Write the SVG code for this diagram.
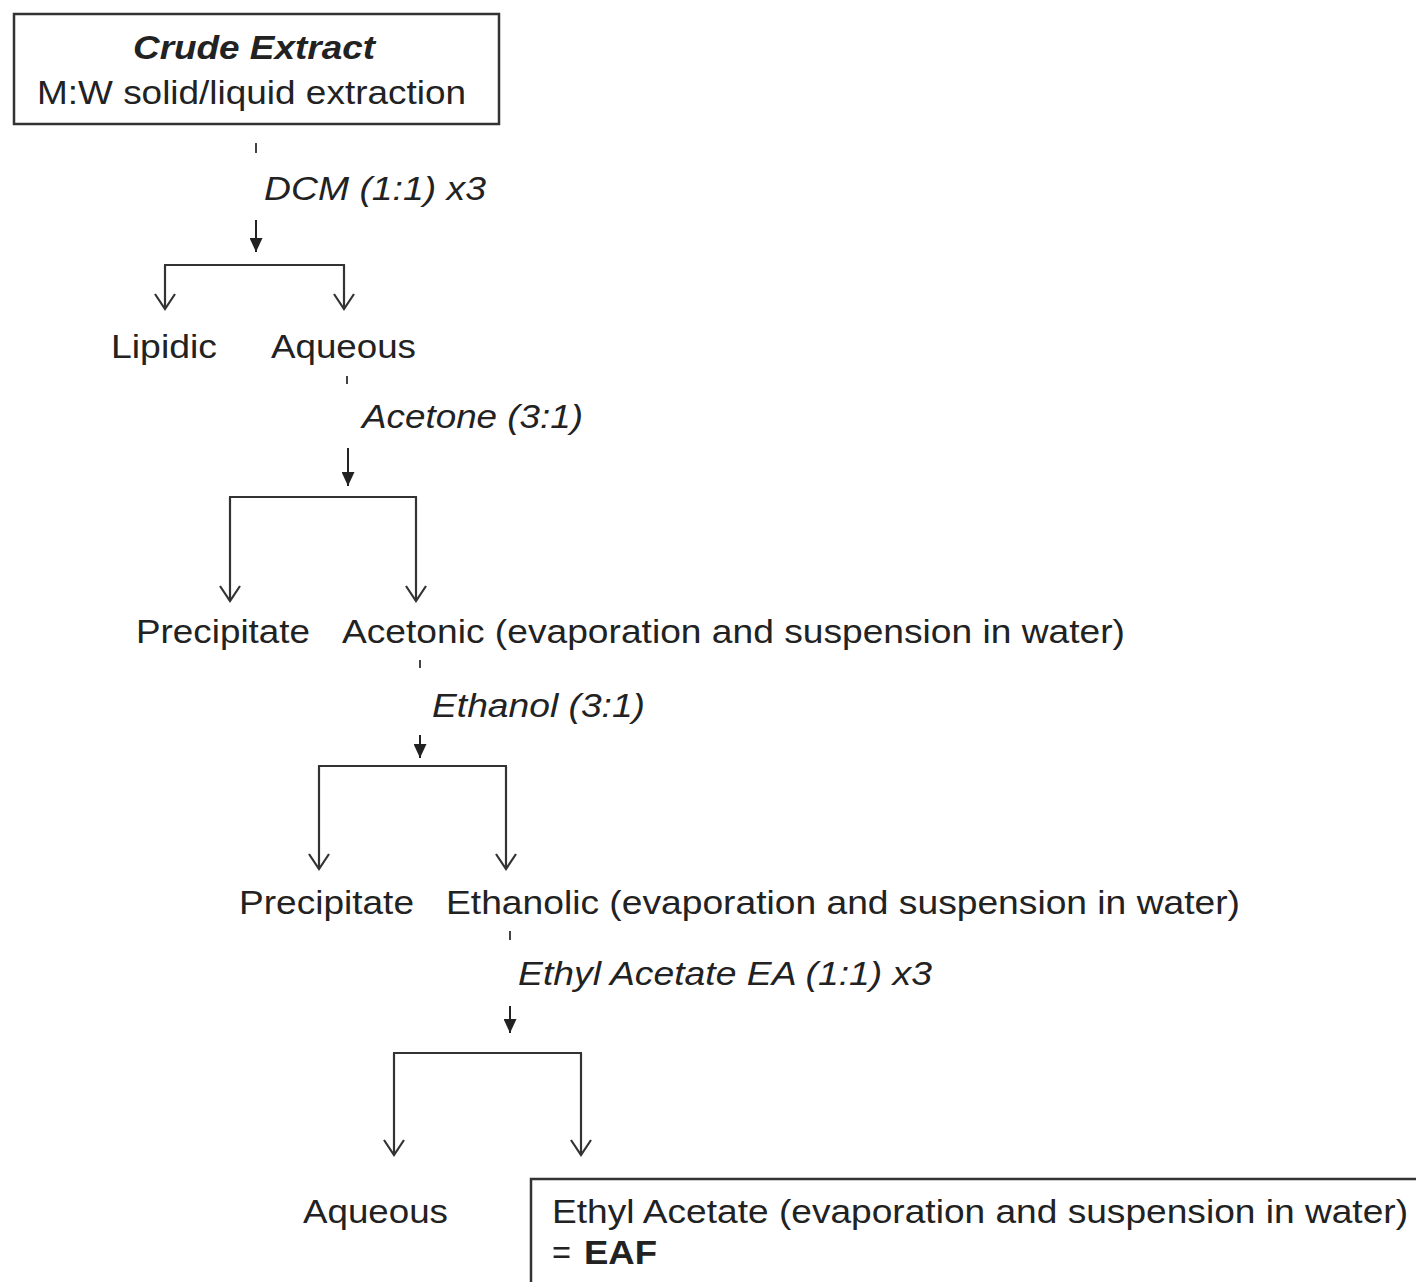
<svg xmlns="http://www.w3.org/2000/svg" width="1416" height="1282" viewBox="0 0 1416 1282">
<defs>
<style>
text{font-family:"Liberation Sans",Arial,sans-serif;font-size:32.5px;fill:#222}
.it{font-style:italic}
.bi{font-style:italic;font-weight:bold}
.b{font-weight:bold}
.box{fill:none;stroke:#333;stroke-width:2.5}
.ln{fill:none;stroke:#333;stroke-width:2.2}
.tick{stroke:#444;stroke-width:2}
.leg{fill:none;stroke:#333;stroke-width:2.2;marker-end:url(#open)}
.dn{fill:none;stroke:#222;stroke-width:2;marker-end:url(#filled)}
</style>
<marker id="open" viewBox="0 0 18 22" refX="16" refY="11" markerWidth="18" markerHeight="22" markerUnits="userSpaceOnUse" orient="auto">
<path d="M1,1 L16,11 L1,21" fill="none" stroke="#333" stroke-width="2.2"/>
</marker>
<marker id="filled" viewBox="0 0 15 13" refX="14" refY="6.5" markerWidth="15" markerHeight="13" markerUnits="userSpaceOnUse" orient="auto">
<path d="M0,0 L14,6.5 L0,13 z" fill="#222"/>
</marker>
</defs>
<rect width="1416" height="1282" fill="#fff"/>

<g id="connectors">
<line class="tick" x1="256" y1="143" x2="256" y2="153"/>
<line class="dn" x1="256" y1="220" x2="256" y2="252"/>
<line class="ln" x1="164" y1="265" x2="345" y2="265"/>
<line class="leg" x1="165" y1="265" x2="165" y2="309"/>
<line class="leg" x1="344" y1="265" x2="344" y2="309"/>

<line class="tick" x1="347" y1="376" x2="347" y2="384"/>
<line class="dn" x1="348" y1="448" x2="348" y2="486"/>
<line class="ln" x1="229" y1="497" x2="417" y2="497"/>
<line class="leg" x1="230" y1="497" x2="230" y2="601"/>
<line class="leg" x1="416" y1="497" x2="416" y2="601"/>

<line class="tick" x1="420" y1="660" x2="420" y2="668"/>
<line class="dn" x1="420" y1="735" x2="420" y2="758"/>
<line class="ln" x1="318" y1="766" x2="507" y2="766"/>
<line class="leg" x1="319" y1="766" x2="319" y2="869"/>
<line class="leg" x1="506" y1="766" x2="506" y2="869"/>

<line class="tick" x1="510" y1="931" x2="510" y2="940"/>
<line class="dn" x1="510" y1="1006" x2="510" y2="1033"/>
<line class="ln" x1="393" y1="1053" x2="582" y2="1053"/>
<line class="leg" x1="394" y1="1053" x2="394" y2="1155"/>
<line class="leg" x1="581" y1="1053" x2="581" y2="1155"/>
</g>

<g id="crude">
<rect class="box" x="14" y="14" width="485" height="110"/>
<text class="bi" x="133" y="59" textLength="242" lengthAdjust="spacingAndGlyphs">Crude Extract</text>
<text x="37" y="104" textLength="429" lengthAdjust="spacingAndGlyphs">M:W solid/liquid extraction</text>
</g>
<g id="label-dcm"><text class="it" x="264" y="200" textLength="222" lengthAdjust="spacingAndGlyphs">DCM (1:1) x3</text></g>
<g id="lipidic"><text x="111" y="358" textLength="106" lengthAdjust="spacingAndGlyphs">Lipidic</text></g>
<g id="aqueous1"><text x="271" y="358" textLength="145" lengthAdjust="spacingAndGlyphs">Aqueous</text></g>
<g id="label-acetone"><text class="it" x="362" y="428" textLength="221" lengthAdjust="spacingAndGlyphs">Acetone (3:1)</text></g>
<g id="precipitate1"><text x="136" y="643" textLength="174" lengthAdjust="spacingAndGlyphs">Precipitate</text></g>
<g id="acetonic"><text x="342" y="643" textLength="783" lengthAdjust="spacingAndGlyphs">Acetonic (evaporation and suspension in water)</text></g>
<g id="label-ethanol"><text class="it" x="432" y="717" textLength="213" lengthAdjust="spacingAndGlyphs">Ethanol (3:1)</text></g>
<g id="precipitate2"><text x="239" y="914" textLength="175" lengthAdjust="spacingAndGlyphs">Precipitate</text></g>
<g id="ethanolic"><text x="446" y="914" textLength="794" lengthAdjust="spacingAndGlyphs">Ethanolic (evaporation and suspension in water)</text></g>
<g id="label-ea"><text class="it" x="518" y="985" textLength="414" lengthAdjust="spacingAndGlyphs">Ethyl Acetate EA (1:1) x3</text></g>
<g id="aqueous2"><text x="303" y="1223" textLength="145" lengthAdjust="spacingAndGlyphs">Aqueous</text></g>
<g id="eaf">
<rect class="box" x="531" y="1179" width="900" height="130"/>
<text x="552" y="1223" textLength="856" lengthAdjust="spacingAndGlyphs">Ethyl Acetate (evaporation and suspension in water)</text>
<text x="552" y="1264">=</text>
<text class="b" x="584" y="1264" textLength="73" lengthAdjust="spacingAndGlyphs">EAF</text>
</g>
</svg>
